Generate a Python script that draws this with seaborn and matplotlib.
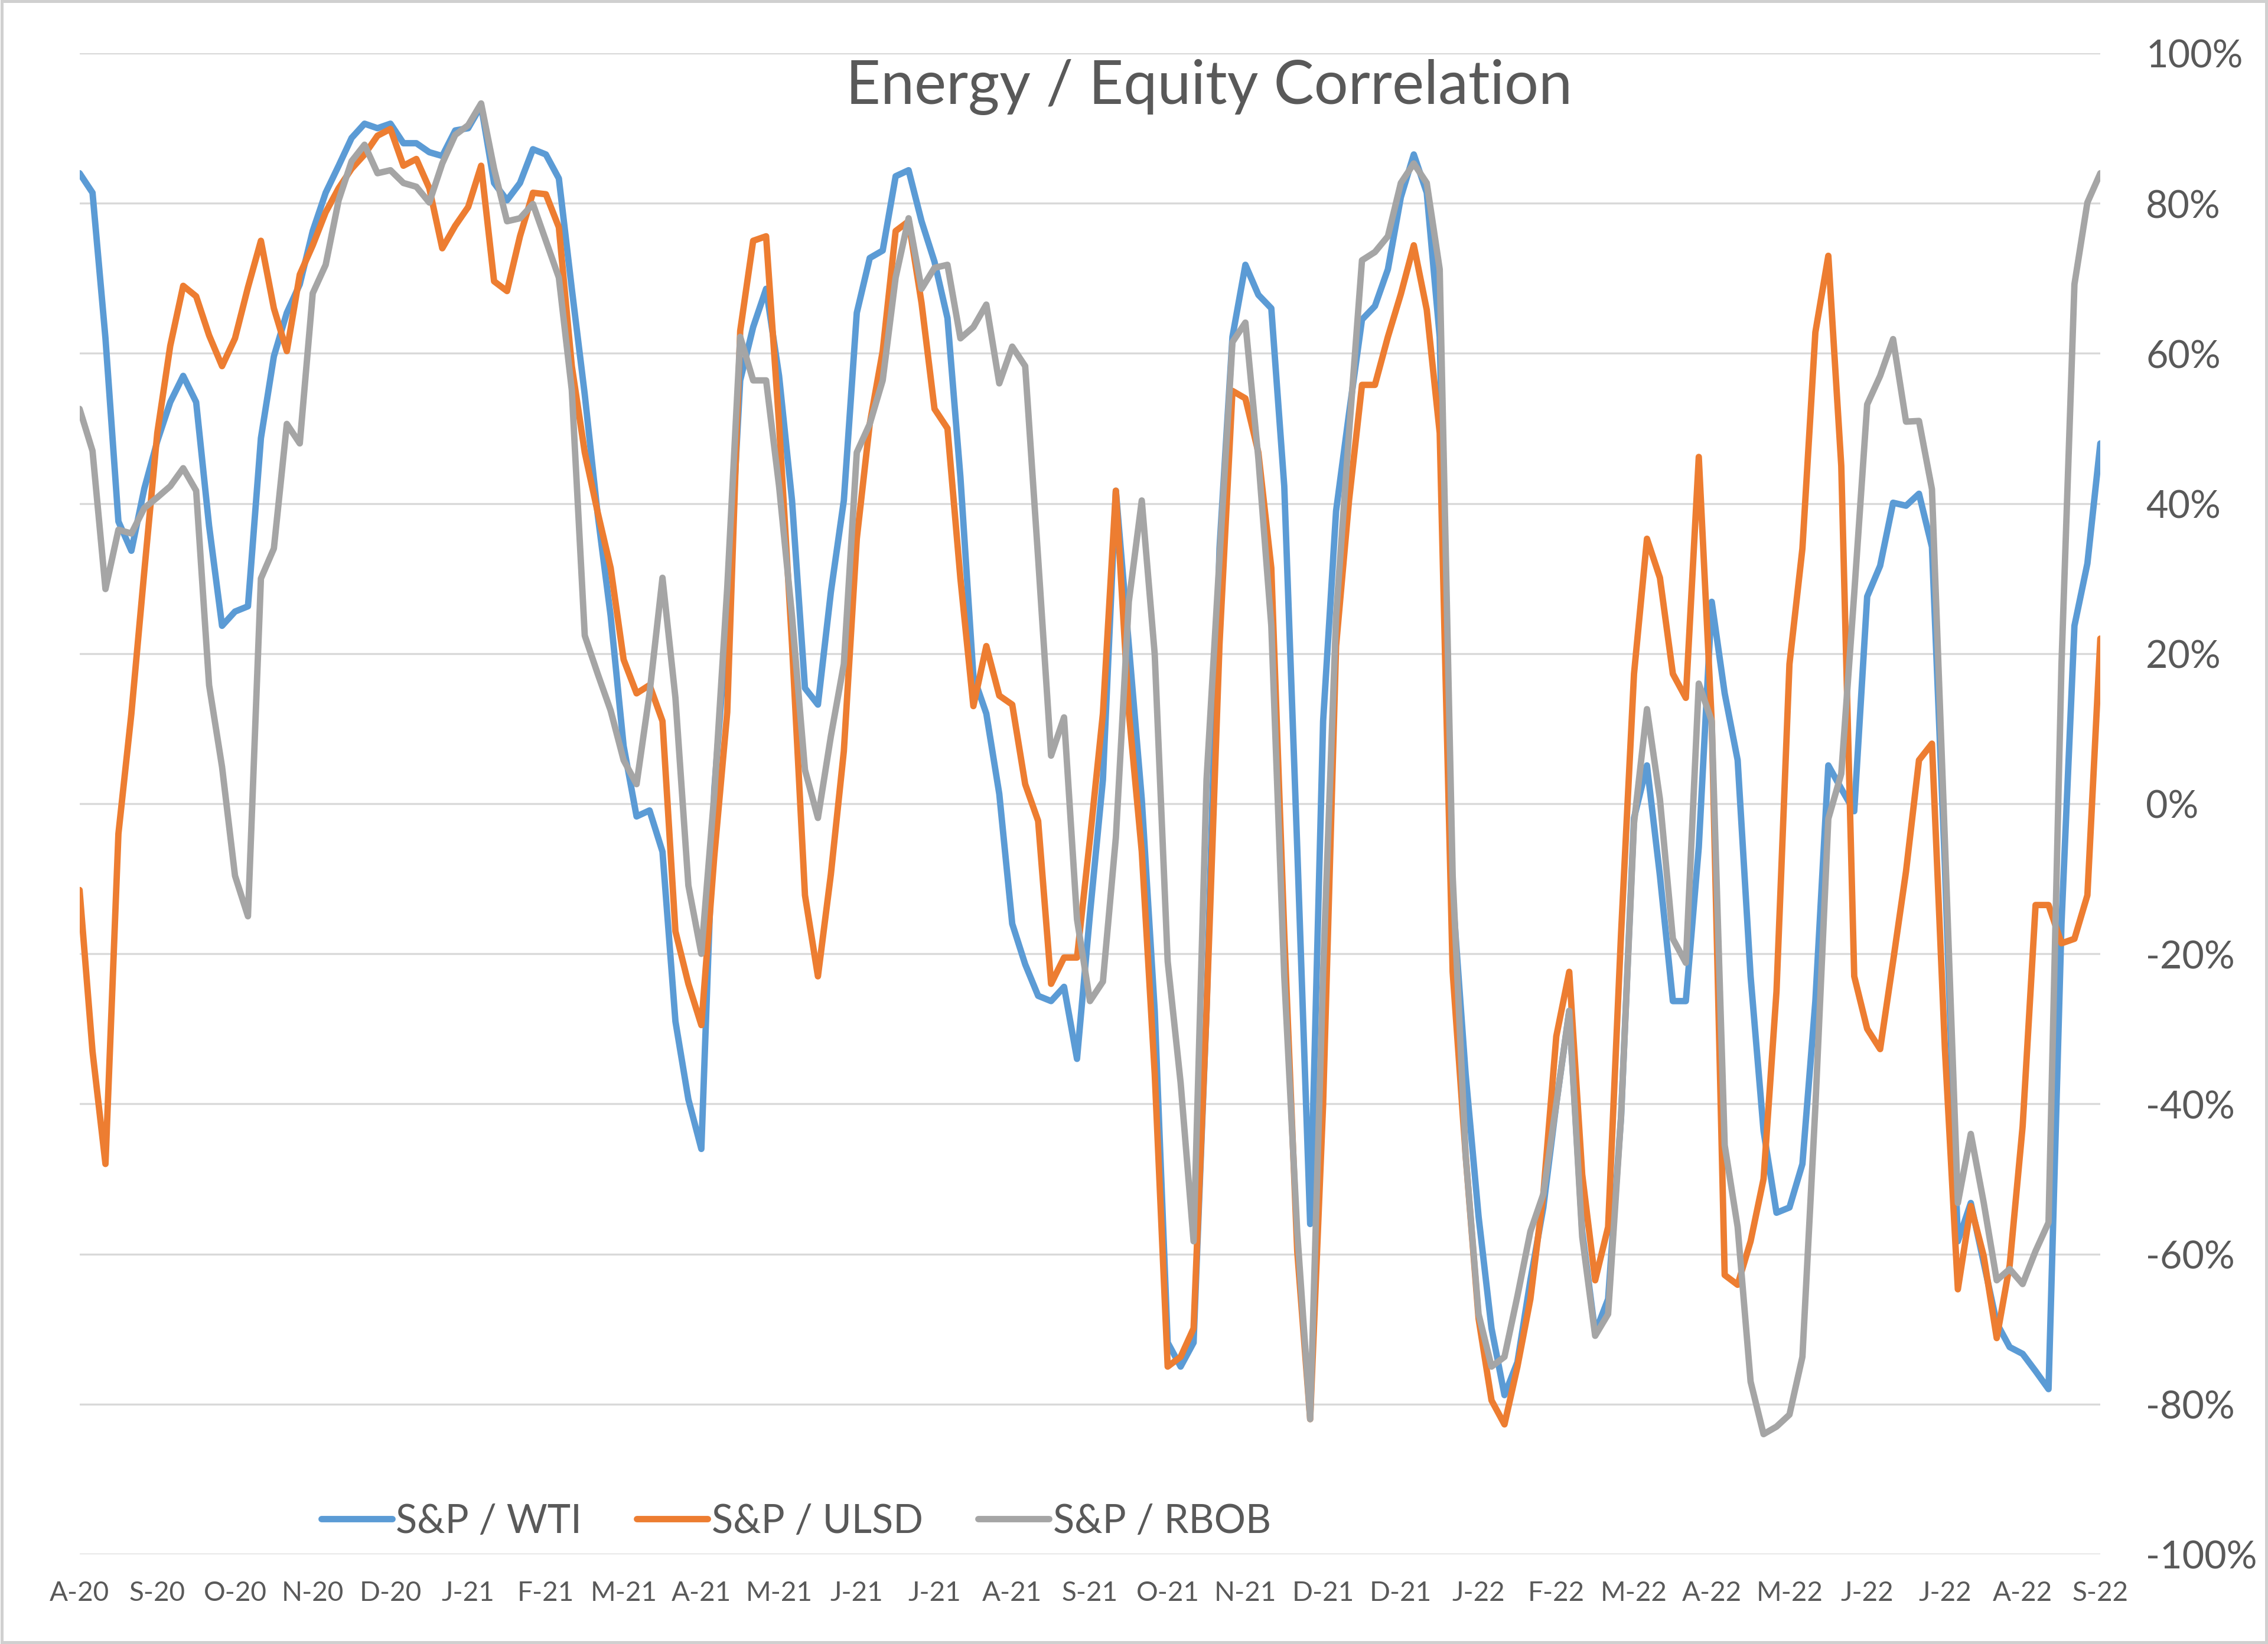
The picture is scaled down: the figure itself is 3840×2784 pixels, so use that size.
import numpy as np
import pandas as pd
import seaborn as sns
import matplotlib as mpl
mpl.use('Agg')
import matplotlib.pyplot as plt
from matplotlib.lines import Line2D
from matplotlib.patches import Rectangle

# month labels on the category axis (one every 6 observations)
month_labels = ['A-20', 'S-20', 'O-20', 'N-20', 'D-20', 'J-21', 'F-21', 'M-21', 'A-21',
                'M-21', 'J-21', 'J-21', 'A-21', 'S-21', 'O-21', 'N-21', 'D-21', 'D-21',
                'J-22', 'F-22', 'M-22', 'A-22', 'M-22', 'J-22', 'J-22', 'A-22', 'S-22']

# rolling correlations (%)
wti = [84, 81.4, 62, 37.6, 33.7, 42, 48.3, 53.5, 57, 53.5, 37, 23.7,
       25.6, 26.3, 48.7, 59.6, 65.4, 69.2, 76.3, 81.4, 85, 88.7, 90.6, 90,
       90.6, 88, 88, 86.8, 86.3, 89.7, 90, 93, 82.7, 80.4, 82.7, 87.2,
       86.5, 83.3, 68.6, 54.5, 38.5, 25, 7.7, -1.7, -0.9, -6.4, -29, -39.4,
       -46, 1.9, 24.4, 56.4, 63.5, 68.6, 57, 40.4, 15.4, 13.2, 28.2, 40.4,
       65.4, 72.7, 73.7, 83.6, 84.4, 77.6, 72.2, 64.7, 43.5, 17, 12, 1.3,
       -16, -21.4, -25.6, -26.3, -24.4, -34, -14.7, 3.2, 41.7, 21.2, 0.6, -27.6,
       -71.8, -75, -71.8, -27.6, 34, 62.2, 71.8, 67.8, 66, 42.3, -5.8, -56,
       11, 39, 52, 64.5, 66.3, 71.2, 80.8, 86.5, 81.4, 62.2, -12.2, -36,
       -55, -69.9, -78.8, -74.4, -63.5, -53.8, -40, -27.6, -57, -70.5, -66, -41.7,
       -1.9, 5.1, -9.6, -26.3, -26.3, -5.8, 26.9, 14.7, 5.8, -23, -43.6, -54.5,
       -53.8, -48, -26.3, 5.1, 2, -1, 27.6, 31.7, 40.1, 39.7, 41.3, 34.2,
       -8.3, -58.3, -53.2, -61.2, -69.2, -72.4, -73.3, -75.6, -78, -16, 23.7, 32,
       48]

ulsd = [-11.5, -33, -48, -4, 12, 31, 49.4, 61, 69, 67.6, 62.4, 58.3,
        62, 68.8, 75, 66, 60.3, 70.5, 74.4, 78.8, 82, 84.6, 86.5, 89,
        89.9, 85, 85.9, 82, 74, 77, 79.5, 85, 69.6, 68.3, 75.6, 81.4,
        81.2, 76.8, 58.3, 46.8, 38.8, 31.4, 19.2, 14.7, 15.8, 11, -17, -24,
        -29.5, -7, 12.2, 63, 75, 75.6, 50.6, 21.2, -12.2, -23, -9.4, 7,
        35.3, 50.6, 60.3, 76.3, 77.6, 66.7, 52.6, 50, 30, 13, 21, 14.4,
        13.2, 2.6, -2.3, -24, -20.5, -20.5, -4.7, 12, 41.7, 12.2, -6.4, -36,
        -75, -73.7, -69.9, -27.6, 21.2, 55, 54, 46.8, 31.4, -17.3, -59.6, -82,
        -40, 21, 40.4, 55.8, 55.8, 62.2, 67.9, 74.4, 65.8, 49.4, -22.4, -46.8,
        -68.6, -79.5, -82.7, -75, -66, -52, -31, -22.4, -49.4, -63.5, -56.4, -17.3,
        17.3, 35.3, 30.1, 17.3, 14.1, 46.2, 10.9, -62.8, -64.1, -58.3, -50, -25,
        18.6, 34, 62.8, 73, 45, -23, -30, -32.7, -21, -9, 5.8, 8,
        -32.7, -64.7, -53.6, -60.3, -71.2, -61.5, -43, -13.5, -13.5, -18.6, -18, -12.2,
        22]

rbob = [52.6, 47, 28.6, 36.5, 36, 39.4, 40.8, 42.3, 44.7, 41.7, 15.8, 4.9,
        -9.6, -15, 30, 34, 50.6, 48, 68, 71.8, 80.4, 85.6, 87.8, 84,
        84.4, 82.7, 82.2, 80.1, 85.3, 89.1, 90.4, 93.3, 84.6, 77.6, 78, 79.9,
        75, 70.1, 55.1, 22.4, 17.3, 12.4, 5.8, 2.6, 14.7, 30.1, 14.1, -10.9,
        -20, 1.3, 28.8, 62.2, 56.4, 56.4, 42.3, 25, 4.5, -1.9, 9, 18.6,
        46.8, 50.6, 56.4, 70.1, 78, 68.6, 71.4, 71.8, 62, 63.5, 66.5, 56,
        60.9, 58.3, 32.7, 6.4, 11.5, -15.4, -26.3, -23.7, -4.5, 26.9, 40.4, 19.9,
        -21, -37.2, -58.3, 3.2, 32.7, 61.5, 64.1, 46, 23.7, -23, -57, -82,
        -22.4, 25, 49.4, 72.4, 73.5, 75.6, 82.7, 85.3, 82.7, 71.2, -9.6, -46.8,
        -68, -75, -73.7, -65.6, -57, -52, -40, -27.6, -57.7, -70.9, -68, -41.7,
        -2.6, 12.6, 0.6, -18, -21.2, 16, 11, -45.5, -56.4, -77, -84, -83,
        -81.4, -73.7, -40.4, -2, 4, 28, 53.2, 57, 61.9, 50.9, 51, 41.9,
        -5, -53.2, -44, -53.2, -63.5, -62, -64, -59.6, -55.8, 18.6, 69.2, 80.1,
        84]

series_names = ['S&P / WTI', 'S&P / ULSD', 'S&P / RBOB']
colores = ['#5B9BD5', '#ED7D31', '#A5A5A5']
paso = 6
gris_texto = '#595959'

df = pd.DataFrame({'obs': np.arange(len(wti)),
                   'S&P / WTI': wti,
                   'S&P / ULSD': ulsd,
                   'S&P / RBOB': rbob})
df = df.melt(id_vars='obs', var_name='serie', value_name='corr')

sns.set_style('white')
plt.rcParams['font.family'] = ['Lato', 'DejaVu Sans']

fig = plt.figure(figsize=(12.8, 9.2833), dpi=300)
ax = fig.add_axes([0.03508, 0.05458, 0.8910, 0.91275])

sns.lineplot(data=df, x='obs', y='corr', hue='serie', hue_order=series_names,
             palette=colores, linewidth=2.6, ax=ax, legend=False)

ax.set_xlim(0, len(wti) - 1)
ax.set_ylim(-100, 100)
ax.set_xlabel('')
ax.set_ylabel('')

ax.set_xticks(np.arange(0, len(wti), paso))
ax.set_xticklabels(month_labels)
ax.tick_params(axis='x', length=0, pad=10.5, labelsize=11, labelcolor=gris_texto)

ax.yaxis.tick_right()
yt = list(range(-100, 101, 20))
ax.set_yticks(yt)
ax.set_yticklabels([f'{v}%' for v in yt])
ax.tick_params(axis='y', length=0, pad=18.5, labelsize=15.5, labelcolor=gris_texto)

ax.grid(axis='y', color='#D9D9D9', linewidth=0.8)
ax.grid(axis='x', visible=False)
ax.set_axisbelow(True)
for s in ax.spines.values():
    s.set_visible(False)

fig.text(0.533, 0.947, 'Energy / Equity Correlation', ha='center', va='center',
         fontsize=24.5, color=gris_texto)

handles = [Line2D([0], [0], color=c, linewidth=2.6) for c in colores]
fig.legend(handles, series_names, loc='center', bbox_to_anchor=(0.351, 0.0747),
           ncol=3, frameon=False, fontsize=16, handlelength=1.8, handletextpad=0.1,
           columnspacing=1.4, labelcolor=gris_texto)

fig.patches.append(Rectangle((0.0008, 0.0011), 0.9984, 0.9978, transform=fig.transFigure,
                             fill=False, edgecolor='#D0D0D0', linewidth=1.2))

plt.savefig('out.png', dpi=300)
